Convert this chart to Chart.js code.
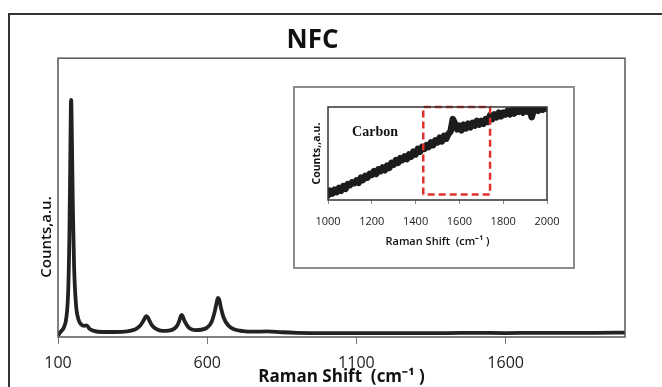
<!DOCTYPE html>
<html>
<head>
<meta charset="utf-8">
<script src="https://cdn.jsdelivr.net/npm/chart.js@4.4.0/dist/chart.umd.min.js"></script>
<style>
  body { margin: 0; background: #fff; }
  #wrap { position: relative; width: 662px; height: 387px; overflow: hidden; }
  #frame { position: absolute; left: 8px; top: 13px; width: 700px; height: 420px; border: 2px solid #333; box-sizing: border-box; }
  #main { position: absolute; left: 0; top: 0; }
  #insetBox { position: absolute; left: 293px; top: 86px; width: 282px; height: 183px; border: 2px solid #8c8c8c; box-sizing: border-box; background: #fff; }
  #inset { position: absolute; left: 0; top: 0; }
</style>
</head>
<body>
<div id="wrap">
  <div id="frame"></div>
  <canvas id="main" width="662" height="387"></canvas>
  <div id="insetBox"><canvas id="inset" width="278" height="179"></canvas></div>
</div>
<script>
// main spectrum (y in % of plot height)
const mainX = [100, 110, 120, 128, 134, 138, 141, 143, 144, 145, 147, 150, 154, 160, 168, 178, 188, 196, 205, 220,
  250, 290, 330, 360, 375, 385, 392, 396, 400, 406, 415, 430, 450, 470, 490, 500, 507, 511, 514, 518,
  525, 540, 560, 580, 600, 615, 625, 632, 636, 640, 646, 655, 670, 690, 720, 760, 800, 850, 900, 1000,
  1100, 1200, 1300, 1400, 1500, 1600, 1700, 1800, 1900, 2000];
const mainY = [0.5, 2.0, 3.5, 7, 16, 35, 62, 82, 85, 83, 68, 45, 25, 12, 6.5, 4.5, 4.0, 4.2, 3.0, 2.2,
  1.8, 1.8, 2.0, 2.8, 4.0, 5.6, 7.0, 7.5, 7.2, 6.0, 4.2, 2.8, 2.2, 2.3, 3.0, 4.2, 6.0, 7.4, 7.9, 7.4,
  5.5, 3.2, 2.5, 2.6, 3.4, 5.5, 9.0, 12.5, 14.0, 13.5, 10.5, 7.0, 4.2, 2.8, 2.1, 1.9, 2.0, 1.7, 1.5, 1.4,
  1.4, 1.4, 1.4, 1.4, 1.5, 1.4, 1.5, 1.5, 1.5, 1.6];
const mainTicks = [100, 600, 1100, 1600];

// inset "Carbon" spectrum
const insetX = [1000, 1010, 1020, 1030, 1040, 1050, 1060, 1070, 1080, 1090,
  1100, 1110, 1120, 1130, 1140, 1150, 1160, 1170, 1180, 1190,
  1200, 1210, 1220, 1230, 1240, 1250, 1260, 1270, 1280, 1290,
  1300, 1310, 1320, 1330, 1340, 1350, 1360, 1370, 1380, 1390,
  1400, 1410, 1420, 1430, 1440, 1450, 1460, 1470, 1480, 1490,
  1500, 1510, 1520, 1530, 1540, 1550, 1560, 1570, 1580, 1590,
  1600, 1610, 1620, 1630, 1640, 1650, 1660, 1670, 1680, 1690,
  1700, 1710, 1720, 1730, 1740, 1750, 1760, 1770, 1780, 1790,
  1800, 1810, 1820, 1830, 1840, 1850, 1860, 1870, 1880, 1890,
  1900, 1910, 1920, 1930, 1940, 1950, 1960, 1970, 1980, 1990, 2000];
const insetY = [5, 10, 7, 11, 8.5, 13, 10, 15, 12, 17,
  16, 19, 18, 21, 18.5, 24, 21.5, 26, 24, 28,
  27, 31, 28, 33, 31, 35, 32, 37, 34.5, 40,
  38, 43, 40, 45, 43, 47, 44, 49, 46.5, 52,
  49, 55, 52, 57, 55, 59, 57, 62, 59, 64,
  62, 67, 63, 69, 66, 71, 74, 87, 82, 76,
  80, 75, 81, 77, 82, 78, 83, 80, 85, 81,
  85, 82, 87, 84, 91, 87, 92, 89, 94, 90,
  94, 92, 96, 92, 97, 93, 98, 95, 98, 94,
  99, 95, 98, 89, 97, 99, 96, 100, 97, 100, 98];

// red dashed box in the inset
const boxX = [1435, 1435, 1740, 1740, 1435];
const boxY = [6, 100, 100, 6, 6];

function pts(xs, ys) {
  return xs.map((x, i) => ({ x: x, y: ys[i] }));
}

function plain(v) {
  return String(v);
}

function areaBorder(color, width) {
  return {
    id: 'areaBorder',
    afterDatasetsDraw(chart) {
      const { ctx, chartArea: a } = chart;
      ctx.save();
      ctx.strokeStyle = color;
      ctx.lineWidth = width;
      ctx.strokeRect(a.left, a.top, a.right - a.left, a.bottom - a.top);
      ctx.restore();
    }
  };
}

function textAt(text, x, y, font, color, rot) {
  return {
    id: 'text_' + text.replace(/\W/g, ''),
    afterDraw(chart) {
      const ctx = chart.ctx;
      ctx.save();
      ctx.translate(x, y);
      if (rot) ctx.rotate(rot);
      ctx.font = font;
      ctx.fillStyle = color;
      ctx.textAlign = 'center';
      ctx.textBaseline = 'middle';
      ctx.fillText(text, 0, 0);
      ctx.restore();
    }
  };
}

new Chart(document.getElementById('main'), {
  type: 'line',
  data: {
    datasets: [{
      data: pts(mainX, mainY),
      borderColor: '#222',
      borderWidth: 3.8,
      pointRadius: 0,
      cubicInterpolationMode: 'monotone',
      borderJoinStyle: 'round',
      fill: false
    }]
  },
  options: {
    responsive: false,
    animation: false,
    devicePixelRatio: 1,
    layout: { padding: { left: 0, right: 37, top: 13, bottom: 0 } },
    plugins: {
      legend: { display: false },
      tooltip: { enabled: false },
      title: {
        display: true,
        text: 'NFC',
        color: '#111',
        font: { family: 'Open Sans', size: 26, weight: 'bold' },
        padding: { top: 12, bottom: 2 }
      }
    },
    scales: {
      x: {
        type: 'linear',
        min: 100,
        max: 2000,
        afterFit(s) { s.height = 50; },
        afterBuildTicks(s) { s.ticks = mainTicks.map(v => ({ value: v })); },
        grid: { display: true, drawOnChartArea: false, drawTicks: true, tickLength: 7, color: '#777' },
        border: { display: false },
        ticks: { color: '#222', font: { family: 'Open Sans', size: 16 }, padding: 10, maxRotation: 0, autoSkip: false, callback: plain },
        title: {
          display: true,
          text: 'Raman Shift  (cm\u207B\u00B9 )',
          color: '#111',
          font: { family: 'Open Sans', size: 17, weight: 'bold' },
          padding: { top: 0, bottom: 0 }
        }
      },
      y: {
        min: 0,
        max: 100,
        afterFit(s) { s.width = 58; },
        ticks: { display: false },
        grid: { display: false },
        border: { display: false }
      }
    }
  },
  plugins: [areaBorder('#555', 1.5), textAt('Counts,a.u.', 47, 237, '600 15px "Open Sans"', '#111', -Math.PI / 2)]
});

new Chart(document.getElementById('inset'), {
  type: 'line',
  data: {
    datasets: [{
      data: pts(boxX, boxY),
      borderColor: '#e0312b',
      borderWidth: 2.5,
      borderDash: [7, 4],
      pointRadius: 0,
      fill: false,
      clip: false,
      order: 0
    }, {
      data: pts(insetX, insetY),
      borderColor: '#1c1c1c',
      borderWidth: 6.5,
      borderJoinStyle: 'round',
      borderCapStyle: 'round',
      pointRadius: 0,
      tension: 0,
      fill: false,
      order: 1
    }]
  },
  options: {
    responsive: false,
    animation: false,
    devicePixelRatio: 1,
    layout: { padding: { left: 0, right: 26, top: 19, bottom: 0 } },
    plugins: { legend: { display: false }, tooltip: { enabled: false } },
    scales: {
      x: {
        type: 'linear',
        min: 1000,
        max: 2000,
        afterFit(s) { s.height = 67; },
        grid: { display: true, drawOnChartArea: false, drawTicks: true, tickLength: 4, color: '#888' },
        border: { display: false },
        ticks: { stepSize: 200, color: '#222', font: { family: 'Open Sans', size: 11 }, padding: 11, maxRotation: 0, autoSkip: false, callback: plain },
        title: {
          display: true,
          text: 'Raman Shift  (cm\u207B\u00B9 )',
          color: '#111',
          font: { family: 'Open Sans', size: 11, weight: '600' },
          padding: { top: 0, bottom: 19 }
        }
      },
      y: {
        min: 0,
        max: 100,
        afterFit(s) { s.width = 33; },
        ticks: { display: false },
        grid: { display: false },
        border: { display: false },
        title: {
          display: true,
          text: 'Counts,,a.u.',
          color: '#111',
          font: { family: 'Open Sans', size: 10.5, weight: 'bold' },
          padding: { top: 16, bottom: 0 }
        }
      }
    }
  },
  plugins: [areaBorder('#333', 1.5), textAt('Carbon', 80, 44, 'bold 14px "Liberation Serif"', '#111', 0)]
});
</script>
</body>
</html>
